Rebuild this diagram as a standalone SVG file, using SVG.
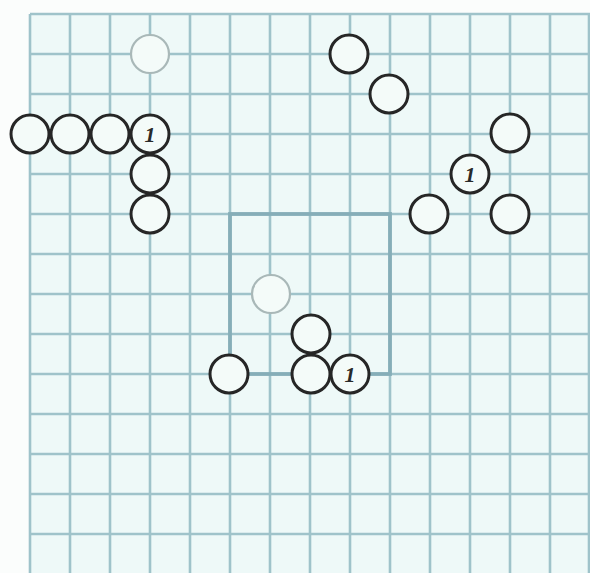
<svg xmlns="http://www.w3.org/2000/svg" width="590" height="573" viewBox="0 0 590 573">
<style>
.g{stroke:#9fc3ca;stroke-width:2.6;fill:none}
.b{stroke:#86aeb8;stroke-width:3.8;fill:none}
.c{fill:#f4fbf9;stroke:#262626;stroke-width:3}
.p{fill:#f4fbf9;stroke:#a9b8b8;stroke-width:2.2}
.t{font-family:"Liberation Serif",serif;font-style:italic;font-weight:bold;font-size:22px;fill:#2a2a2a;text-anchor:middle}
</style>
<rect width="590" height="573" fill="#fbfdfc"/>
<rect x="30" y="14" width="560" height="559" fill="#eef9f8"/>
<g id="grid" class="g">
<path d="M30 14V573M70 14V573M110 14V573M150 14V573M190 14V573M230 14V573M270 14V573M310 14V573M350 14V573M390 14V573M430 14V573M470 14V573M510 14V573M550 14V573M589 14V573"/>
<path d="M30 14H590M30 54H590M30 94H590M30 134H590M30 174H590M30 214H590M30 254H590M30 294H590M30 334H590M30 374H590M30 414H590M30 454H590M30 494H590M30 534H590"/>
</g>
<rect id="square" class="b" x="230" y="214" width="160" height="160"/>
<g id="connectors"></g>
<g id="n1"><circle class="p" cx="150" cy="54" r="19"/></g>
<g id="n2"><circle class="c" cx="30" cy="134" r="19"/></g>
<g id="n3"><circle class="c" cx="70" cy="134" r="19"/></g>
<g id="n4"><circle class="c" cx="110" cy="134" r="19"/></g>
<g id="n5"><circle class="c" cx="150" cy="134" r="19"/><text class="t" x="150" y="142">1</text></g>
<g id="n6"><circle class="c" cx="150" cy="174" r="19"/></g>
<g id="n7"><circle class="c" cx="150" cy="214" r="19"/></g>
<g id="n8"><circle class="c" cx="349" cy="54" r="19"/></g>
<g id="n9"><circle class="c" cx="389" cy="94" r="19"/></g>
<g id="n10"><circle class="c" cx="510" cy="133" r="19"/></g>
<g id="n11"><circle class="c" cx="470" cy="174" r="19"/><text class="t" x="470" y="182">1</text></g>
<g id="n12"><circle class="c" cx="429" cy="214" r="19"/></g>
<g id="n13"><circle class="c" cx="510" cy="214" r="19"/></g>
<g id="n14"><circle class="p" cx="271" cy="294" r="19"/></g>
<g id="n15"><circle class="c" cx="311" cy="334" r="19"/></g>
<g id="n16"><circle class="c" cx="229" cy="374" r="19"/></g>
<g id="n17"><circle class="c" cx="311" cy="374" r="19"/></g>
<g id="n18"><circle class="c" cx="350" cy="374" r="19"/><text class="t" x="350" y="382">1</text></g>
</svg>
